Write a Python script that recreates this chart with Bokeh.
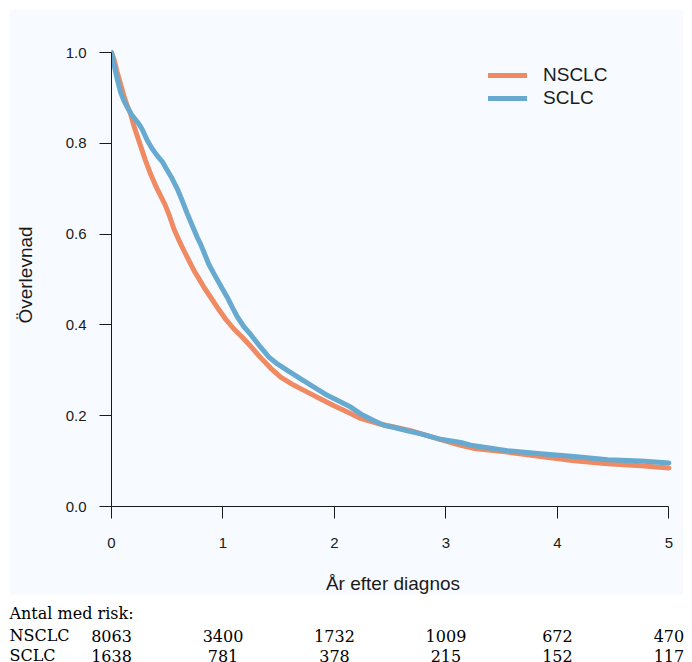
from bokeh.plotting import figure
from bokeh.models import Range1d, PrintfTickFormatter, Legend, LegendItem
from bokeh.embed import file_html
from bokeh.resources import INLINE
from bokeh.core.properties import value

# ---------------- data ----------------
series_names = ["NSCLC", "SCLC"]

nsclc_t = [0.0, 0.021, 0.051, 0.081, 0.111, 0.141, 0.171, 0.200, 0.230, 0.260,
           0.305, 0.350, 0.395, 0.440, 0.480, 0.522, 0.559, 0.604, 0.649, 0.694,
           0.739, 0.784, 0.829, 0.889, 0.948, 1.023, 1.098, 1.173, 1.248, 1.337,
           1.427, 1.517, 1.637, 1.757, 1.876, 1.996, 2.116, 2.235, 2.385, 2.535,
           2.684, 2.834, 2.983, 3.133, 3.25, 3.55, 3.85, 4.15, 4.45, 4.75, 5.0]
nsclc_s = [1.0, 0.986, 0.957, 0.931, 0.905, 0.883, 0.865, 0.839, 0.817, 0.795,
           0.762, 0.733, 0.707, 0.685, 0.665, 0.639, 0.612, 0.587, 0.564, 0.542,
           0.520, 0.502, 0.483, 0.461, 0.439, 0.413, 0.391, 0.373, 0.353, 0.328,
           0.305, 0.285, 0.267, 0.252, 0.237, 0.222, 0.208, 0.194, 0.183, 0.175,
           0.167, 0.156, 0.145, 0.135, 0.128, 0.120, 0.110, 0.101, 0.094, 0.090, 0.085]

sclc_t = [0.0, 0.021, 0.051, 0.081, 0.111, 0.141, 0.186, 0.245, 0.275, 0.320,
          0.365, 0.410, 0.455, 0.500, 0.545, 0.590, 0.634, 0.680, 0.724, 0.769,
          0.799, 0.829, 0.874, 0.918, 0.978, 1.038, 1.083, 1.128, 1.188, 1.248,
          1.337, 1.412, 1.487, 1.577, 1.697, 1.816, 1.936, 2.056, 2.145, 2.235,
          2.355, 2.444, 2.535, 2.654, 2.774, 2.953, 3.133, 3.223, 3.552, 3.85,
          4.15, 4.45, 4.748, 5.0]
sclc_s = [1.0, 0.975, 0.942, 0.913, 0.894, 0.880, 0.861, 0.843, 0.831, 0.807,
          0.788, 0.773, 0.760, 0.741, 0.722, 0.700, 0.674, 0.645, 0.619, 0.593,
          0.578, 0.560, 0.533, 0.513, 0.487, 0.461, 0.439, 0.418, 0.396, 0.379,
          0.351, 0.329, 0.314, 0.300, 0.281, 0.263, 0.245, 0.230, 0.219, 0.204,
          0.189, 0.179, 0.174, 0.167, 0.160, 0.148, 0.141, 0.135, 0.123, 0.116,
          0.110, 0.103, 0.100, 0.096]

x_ticks = [0, 1, 2, 3, 4, 5]
y_ticks = [0.0, 0.2, 0.4, 0.6, 0.8, 1.0]

risk_title = "Antal med risk:"
risk_times = [0, 1, 2, 3, 4, 5]
nsclc_risk = [8063, 3400, 1732, 1009, 672, 470]
sclc_risk = [1638, 781, 378, 215, 152, 117]

x_title = "År efter diagnos"
y_title = "Överlevnad"

# ---------------- style ----------------
PANEL = "#F7FBFF"
ORANGE = "#EF8A62"
BLUE = "#67A9CF"
INK = "#1a1a1a"
SANS = "Liberation Sans"
SERIF = "DejaVu Serif"

# ---------------- main plot ----------------
p = figure(width=674, height=589,
           x_range=Range1d(0, 5.05), y_range=Range1d(0, 1.02),
           output_backend="svg", toolbar_location=None,
           min_border_left=102, min_border_right=9,
           min_border_top=34, min_border_bottom=92)
p.margin = (9, 0, 0, 9)
p.background_fill_color = PANEL
p.border_fill_color = PANEL
p.outline_line_color = None
p.grid.visible = False

r1 = p.line(nsclc_t, nsclc_s, line_color=ORANGE, line_width=5,
            line_cap="round", line_join="round")
r2 = p.line(sclc_t, sclc_s, line_color=BLUE, line_width=5,
            line_cap="round", line_join="round")

for ax in (p.xaxis[0], p.yaxis[0]):
    ax.axis_line_color = INK
    ax.axis_line_width = 1
    ax.major_tick_line_color = INK
    ax.major_tick_in = 0
    ax.major_tick_out = 12
    ax.minor_tick_in = 0
    ax.minor_tick_out = 0
    ax.major_label_text_font = SANS
    ax.major_label_text_font_size = "15px"
    ax.major_label_text_color = INK
    ax.axis_label_text_font = SANS
    ax.axis_label_text_font_size = "19px"
    ax.axis_label_text_font_style = "normal"
    ax.axis_label_text_color = INK

p.xaxis.ticker = x_ticks
p.xaxis.bounds = (0, 5)
p.xaxis.axis_label = x_title
p.xaxis.major_label_standoff = 19
p.xaxis.axis_label_standoff = 22

p.yaxis.ticker = y_ticks
p.yaxis.bounds = (0, 1)
p.yaxis.formatter = PrintfTickFormatter(format="%.1f")
p.yaxis.axis_label = y_title
p.yaxis.major_label_standoff = 13
p.yaxis.axis_label_standoff = 27

legend = Legend(items=[LegendItem(label=series_names[0], renderers=[r1]),
                       LegendItem(label=series_names[1], renderers=[r2])],
                location=(377, 397))
legend.border_line_color = None
legend.background_fill_alpha = 0
legend.padding = 0
legend.margin = 0
legend.spacing = 1
legend.glyph_width = 39
legend.glyph_height = 20
legend.label_height = 20
legend.label_standoff = 16
legend.label_text_font = SANS
legend.label_text_font_size = "19px"
legend.label_text_color = INK
p.add_layout(legend)

# ---------------- risk table (separate root, same x scale) ----------------
px_per_year = 563 / 5.05
zero_px = 111          # page x of t = 0
tw, th = 684, 72
q = figure(width=tw, height=th,
           x_range=Range1d(-zero_px / px_per_year, (tw - zero_px) / px_per_year),
           y_range=Range1d(th, 0),
           output_backend="svg", toolbar_location=None,
           x_axis_location=None, y_axis_location=None, min_border=0)
q.margin = (-4, 0, 0, 0)
q.outline_line_color = None
q.grid.visible = False
q.background_fill_color = "white"
q.border_fill_color = "white"

label_x = (9 - zero_px) / px_per_year
row_y = [19, 41, 61]   # baselines in px from top of table
common = dict(text_font=value(SERIF), text_font_size="16px", text_color="black",
              text_baseline="alphabetic")
q.text(x=[label_x], y=[row_y[0]], text=[risk_title], text_align="left", **common)
q.text(x=[label_x, label_x], y=[row_y[1], row_y[2]], text=series_names,
       text_align="left", **common)
q.text(x=risk_times, y=[row_y[1]] * len(risk_times),
       text=[str(v) for v in nsclc_risk], text_align="center", **common)
q.text(x=risk_times, y=[row_y[2]] * len(risk_times),
       text=[str(v) for v in sclc_risk], text_align="center", **common)

open("out.html", "w").write(file_html([p, q], INLINE))
